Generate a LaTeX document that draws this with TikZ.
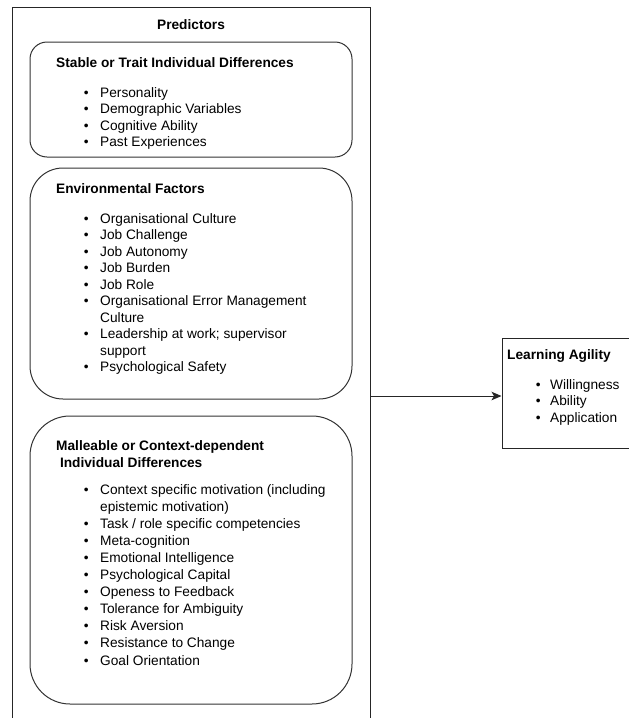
\documentclass[tikz,border=0pt]{standalone}
\usepackage{fontspec}
\setmainfont{Liberation Sans}
\usetikzlibrary{arrows.meta}
\newcommand{\itm}[1]{\makebox[16.4pt][l]{\textbullet}#1\\}
\newcommand{\cnt}[1]{\hspace*{16.4pt}#1\\}
\newcommand{\itmla}[1]{\makebox[14.4pt][l]{\textbullet}#1\\}
\tikzset{
  framebox/.style={draw=black!85, line width=1pt, rectangle, inner sep=0pt},
  roundbox/.style={draw=black!80, line width=1pt, rectangle, inner sep=0pt},
  txt/.style={inner sep=0pt, anchor=base west, align=left},
  head/.style={inner sep=0pt, anchor=base west, font=\fontsize{13.7}{16.5}\selectfont\bfseries},
  arr/.style={draw=black!85, line width=1pt, -{Stealth[length=10pt,width=8.5pt,inset=2.5pt]}}
}
\begin{document}
\begin{tikzpicture}[x=1pt,y=-1pt, font=\fontsize{13.7}{16.5}\selectfont]
\useasboundingbox (0,0) rectangle (629,718);
\clip (0,0) rectangle (629,718);
\fill[white] (0,0) rectangle (629,718);
% outer container
\node[framebox, minimum width=357.5pt, minimum height=778pt] (pred) at (191.25,396) {};
\node[head, anchor=base] (predt) at (191,29) {Predictors};
% box 1
\node[roundbox, rounded corners=17pt, minimum width=322pt, minimum height=115pt] (b1) at (191,99.5) {};
\node[head] (b1h) at (56,67) {Stable or Trait Individual Differences};
\node[txt] (b1l) at (83.6,97) {\begin{tabular}[t]{@{}l@{}}
\itm{Personality}
\itm{Demographic Variables}
\itm{Cognitive Ability}
\itm{Past Experiences}
\end{tabular}};
% box 2
\node[roundbox, rounded corners=33pt, minimum width=322pt, minimum height=231pt] (b2) at (191,283.5) {};
\node[head] (b2h) at (56,193) {Environmental Factors};
\node[txt] (b2l) at (83.6,223) {\begin{tabular}[t]{@{}l@{}}
\itm{Organisational Culture}
\itm{Job Challenge}
\itm{Job Autonomy}
\itm{Job Burden}
\itm{Job Role}
\itm{Organisational Error Management}
\cnt{Culture}
\itm{Leadership at work; supervisor}
\cnt{support}
\itm{Psychological Safety}
\end{tabular}};
% box 3
\node[roundbox, rounded corners=40pt, minimum width=322pt, minimum height=288pt] (b3) at (191,560) {};
\node[txt, font=\fontsize{13.7}{17.5}\selectfont\bfseries] (b3h) at (56,450) {\begin{tabular}[t]{@{}l@{}}
Malleable or Context-dependent\\
\hspace*{3.8pt}Individual Differences\\
\end{tabular}};
\node[txt, font=\fontsize{13.7}{17.1}\selectfont] (b3l) at (83.6,494) {\begin{tabular}[t]{@{}l@{}}
\itm{Context specific motivation (including}
\cnt{epistemic motivation)}
\itm{Task / role specific competencies}
\itm{Meta-cognition}
\itm{Emotional Intelligence}
\itm{Psychological Capital}
\itm{Openess to Feedback}
\itm{Tolerance for Ambiguity}
\itm{Risk Aversion}
\itm{Resistance to Change}
\itm{Goal Orientation}
\end{tabular}};
% learning agility
\node[framebox, minimum width=143pt, minimum height=110pt] (la) at (573.5,393) {};
\node[head] (lah) at (507,359) {Learning Agility};
\node[txt] (lal) at (535.6,389) {\begin{tabular}[t]{@{}l@{}}
\itmla{Willingness}
\itmla{Ability}
\itmla{Application}
\end{tabular}};
% connector
\draw[arr] (pred.east) -- (pred.east -| la.west);
\end{tikzpicture}
\end{document}
